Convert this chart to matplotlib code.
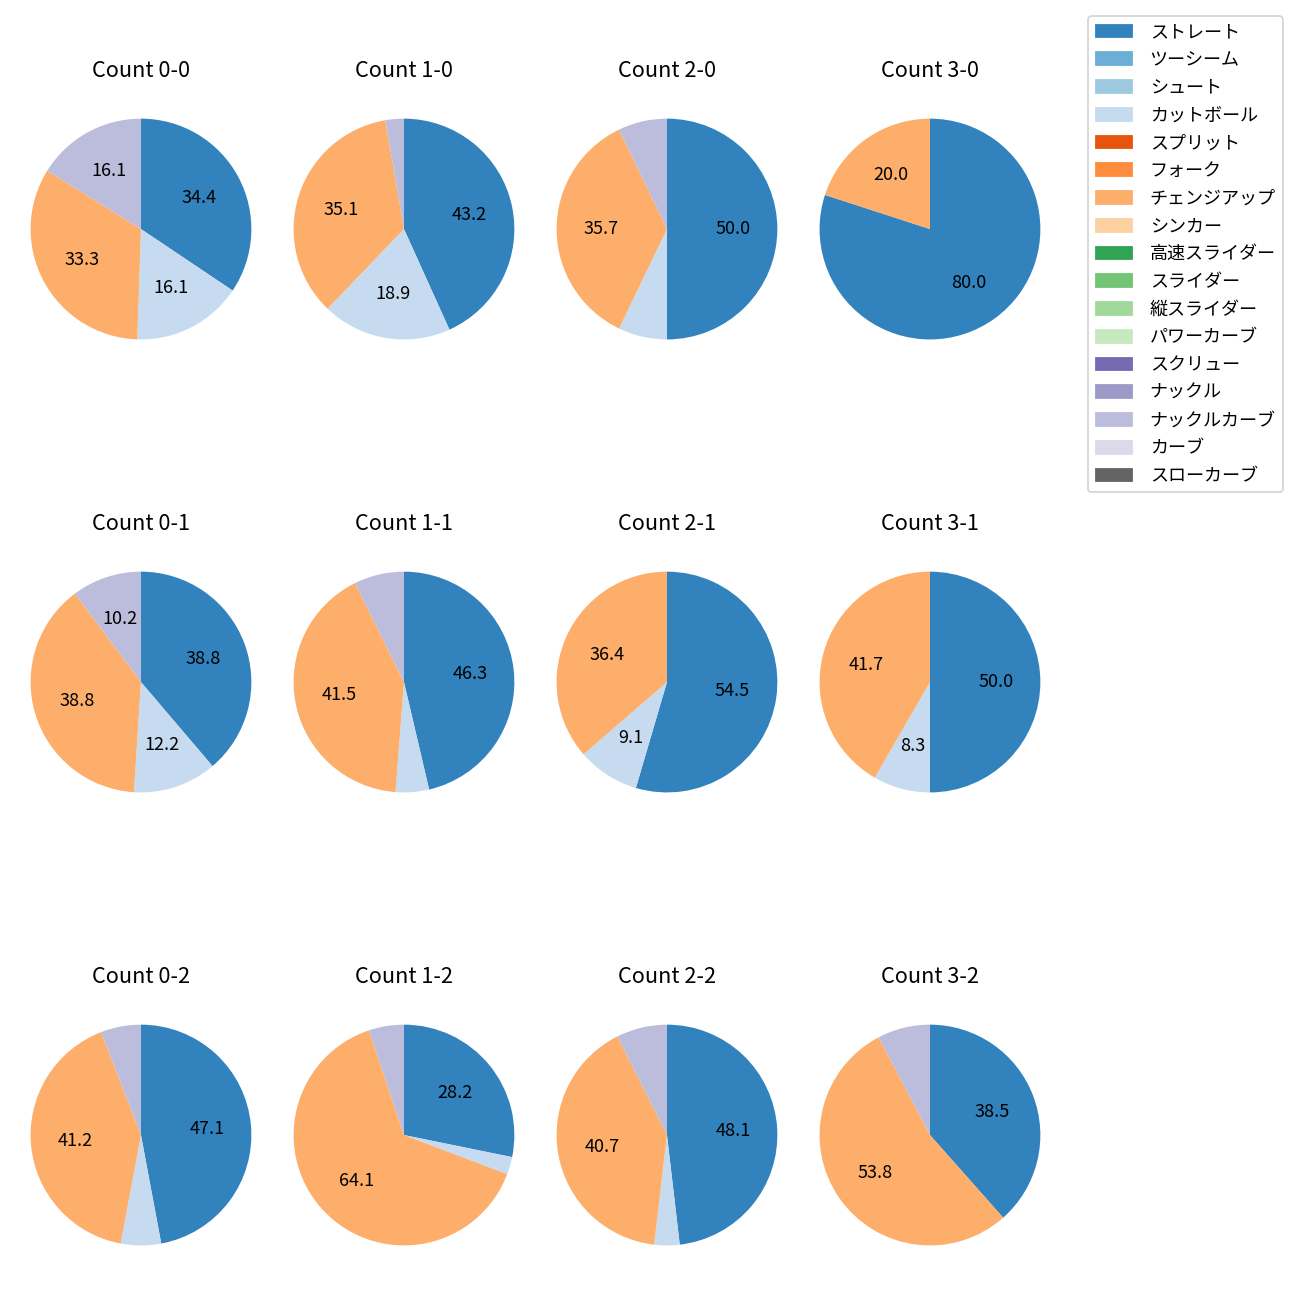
import numpy as np
import matplotlib
matplotlib.use("Agg")
import matplotlib.pyplot as plt
from matplotlib.patches import Patch

plt.rcParams["font.family"] = ["Noto Sans CJK JP", "DejaVu Sans"]

pitch_names = ["ストレート", "ツーシーム", "シュート", "カットボール", "スプリット",
               "フォーク", "チェンジアップ", "シンカー", "高速スライダー", "スライダー",
               "縦スライダー", "パワーカーブ", "スクリュー", "ナックル", "ナックルカーブ",
               "カーブ", "スローカーブ"]

# counts in grid order: rows = strikes 0..2, cols = balls 0..3
count_labels = ["0-0", "1-0", "2-0", "3-0",
                "0-1", "1-1", "2-1", "3-1",
                "0-2", "1-2", "2-2", "3-2"]

straight      = [32, 16, 7, 4, 19, 19, 6, 6, 8, 11, 13, 5]
cutball       = [15, 7, 1, 0, 6, 2, 1, 1, 1, 1, 1, 0]
changeup      = [31, 13, 5, 1, 19, 17, 4, 5, 7, 25, 11, 7]
knuckle_curve = [15, 1, 1, 0, 5, 3, 0, 0, 1, 2, 2, 1]

series = {"ストレート": straight, "カットボール": cutball,
          "チェンジアップ": changeup, "ナックルカーブ": knuckle_curve}

colors = list(plt.get_cmap("tab20c").colors)[:len(pitch_names)]


def pct_label(pct):
    return f"{pct:.1f}" if pct > 8 else ""


fig, axes = plt.subplots(3, 4, figsize=(10, 10), dpi=130)
fig.subplots_adjust(left=0.0023, right=0.8215, top=0.9392, bottom=0.0115,
                    wspace=-0.047, hspace=0.51)

for i, ax in enumerate(axes.flat):
    vals, cols = [], []
    for name, c in zip(pitch_names, colors):
        v = series.get(name, [0] * 12)[i]
        if v > 0:
            vals.append(v)
            cols.append(c)
    ax.pie(vals, colors=cols, startangle=90, counterclock=False,
           autopct=pct_label, textprops={"fontsize": 10})
    ax.set_title(f"Count {count_labels[i]}", fontsize=12, pad=8)

handles = [Patch(color=c, label=n) for n, c in zip(pitch_names, colors)]
fig.legend(handles=handles, loc="upper right",
           bbox_to_anchor=(0.9938, 0.9946), fontsize=10,
           handletextpad=1.0, labelspacing=0.54)

fig.savefig("out.png", dpi=130)
